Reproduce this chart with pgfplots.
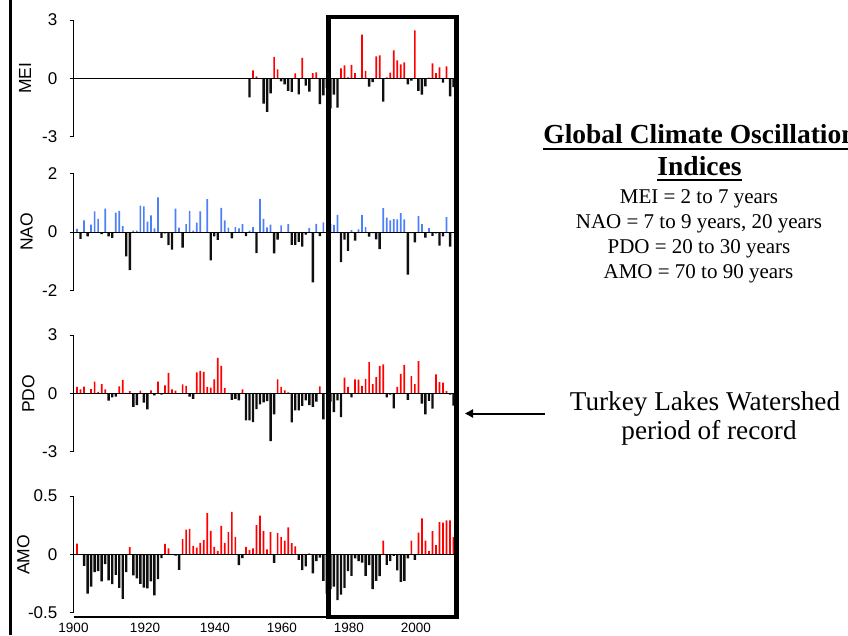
\documentclass[border=0pt]{standalone}
\usepackage{fontspec}
\setmainfont{Liberation Serif}
\newfontfamily\arial{Liberation Sans}
\usepackage{pgfplots}
\pgfplotsset{compat=1.18}
\usepackage{pgfplotstable}
\usetikzlibrary{arrows.meta}

\definecolor{barred}{RGB}{255,0,0}
\definecolor{barblue}{RGB}{77,128,245}
\definecolor{barblack}{RGB}{15,15,15}

\pgfplotstableread{
year val
1949 -0.98
1950 0.41
1951 0.10
1952 0.00
1953 -1.30
1954 -1.72
1955 -0.77
1956 1.10
1957 0.46
1958 -0.15
1959 -0.31
1960 -0.65
1961 -0.69
1962 0.26
1963 -0.82
1964 1.05
1965 -0.38
1966 -0.68
1967 0.27
1968 0.31
1969 -1.32
1970 -0.87
1971 -0.50
1972 -1.55
1973 -0.84
1974 -1.51
1975 0.51
1976 0.67
1977 0.05
1978 0.69
1979 0.27
1980 0.00
1981 2.25
1982 0.39
1983 -0.43
1984 -0.20
1985 1.13
1986 1.18
1987 -1.20
1988 0.05
1989 0.30
1990 1.44
1991 0.93
1992 0.72
1993 0.82
1994 -0.31
1995 -0.12
1996 2.47
1997 -0.65
1998 -0.84
1999 -0.41
2000 0.04
2001 0.77
2002 0.27
2003 0.57
2004 -0.22
2005 0.62
2006 -0.93
2007 -0.45
}\meidata

\pgfplotstableread{
year val
1900 0.11
1901 -0.23
1902 0.40
1903 -0.15
1904 0.25
1905 0.70
1906 0.45
1907 -0.07
1908 0.80
1909 -0.15
1910 -0.20
1911 0.66
1912 0.72
1913 0.20
1914 -0.83
1915 -1.30
1916 0.05
1917 0.05
1918 0.90
1919 0.87
1920 0.35
1921 0.57
1922 0.12
1923 1.18
1924 -0.20
1925 -0.05
1926 -0.45
1927 -0.60
1928 0.80
1929 0.15
1930 -0.53
1931 0.27
1932 0.72
1933 0.05
1934 0.32
1935 0.70
1936 0.00
1937 1.12
1938 -0.97
1939 -0.15
1940 -0.27
1941 0.82
1942 0.40
1943 0.15
1944 -0.22
1945 0.17
1946 0.12
1947 0.27
1948 -0.14
1949 0.05
1950 0.17
1951 -0.72
1952 1.13
1953 0.45
1954 0.16
1955 0.25
1956 -0.73
1957 -0.26
1958 0.23
1959 -0.03
1960 0.27
1961 -0.44
1962 -0.44
1963 -0.34
1964 -0.50
1965 -0.09
1966 0.14
1967 -1.72
1968 0.28
1969 -0.14
1970 0.33
1971 0.00
1972 0.28
1973 0.24
1974 0.58
1975 -1.03
1976 -0.26
1977 -0.64
1978 0.06
1979 -0.29
1980 0.09
1981 0.58
1982 0.17
1983 -0.16
1984 -0.04
1985 -0.25
1986 -0.58
1987 0.81
1988 0.49
1989 0.40
1990 0.44
1991 0.43
1992 0.64
1993 0.43
1994 -1.45
1995 -0.04
1996 -0.35
1997 0.54
1998 0.27
1999 -0.19
2000 0.13
2001 -0.13
2002 -0.05
2003 -0.46
2004 -0.15
2005 0.51
2006 -0.50
}\naodata

\pgfplotstableread{
year val
1900 0.33
1901 0.21
1902 0.34
1903 0.00
1904 0.22
1905 0.60
1906 0.07
1907 0.48
1908 0.21
1909 -0.38
1910 -0.21
1911 -0.17
1912 0.36
1913 0.69
1914 0.03
1915 0.12
1916 -0.69
1917 -0.60
1918 0.14
1919 -0.48
1920 -0.82
1921 0.15
1922 -0.10
1923 0.60
1924 -0.07
1925 0.41
1926 1.05
1927 0.21
1928 0.14
1929 0.00
1930 0.46
1931 0.38
1932 -0.17
1933 -0.29
1934 1.08
1935 1.15
1936 1.10
1937 0.33
1938 0.29
1939 0.72
1940 1.82
1941 1.41
1942 0.27
1943 0.03
1944 -0.33
1945 -0.29
1946 -0.36
1947 0.21
1948 -1.39
1949 -1.39
1950 -1.48
1951 -0.81
1952 -0.57
1953 -0.47
1954 -0.40
1955 -2.45
1956 -1.08
1957 0.72
1958 0.33
1959 0.15
1960 0.05
1961 -1.49
1962 -0.87
1963 -0.87
1964 -0.65
1965 -0.36
1966 -0.60
1967 -0.70
1968 -0.43
1969 0.36
1970 -1.34
1971 0.00
1972 -0.43
1973 -0.96
1974 -0.36
1975 -1.22
1976 0.81
1977 0.33
1978 -0.21
1979 0.72
1980 0.70
1981 0.39
1982 0.74
1983 1.61
1984 0.48
1985 0.84
1986 1.41
1987 1.49
1988 -0.21
1989 -0.07
1990 -0.77
1991 0.33
1992 1.00
1993 1.46
1994 -0.34
1995 0.89
1996 0.48
1997 1.66
1998 -0.53
1999 -1.08
2000 -0.39
2001 -0.79
2002 0.98
2003 0.58
2004 0.55
2005 0.12
2006 -0.07
2007 -0.63
}\pdodata

\pgfplotstableread{
year val
1900 0.090
1901 0.000
1902 -0.100
1903 -0.340
1904 -0.280
1905 -0.155
1906 -0.146
1907 -0.235
1908 -0.086
1909 -0.226
1910 -0.258
1911 -0.178
1912 -0.290
1913 -0.384
1914 -0.155
1915 0.060
1916 -0.183
1917 -0.209
1918 -0.255
1919 -0.287
1920 -0.295
1921 -0.235
1922 -0.355
1923 -0.215
1924 -0.034
1925 0.089
1926 0.049
1927 0.000
1928 -0.012
1929 -0.135
1930 0.129
1931 0.210
1932 0.218
1933 0.072
1934 0.057
1935 0.097
1936 0.120
1937 0.352
1938 0.200
1939 0.063
1940 0.029
1941 0.244
1942 0.097
1943 0.189
1944 0.364
1945 0.149
1946 -0.095
1947 -0.034
1948 0.063
1949 0.037
1950 0.049
1951 0.249
1952 0.332
1953 0.200
1954 0.040
1955 0.190
1956 -0.075
1957 0.180
1958 0.146
1959 0.117
1960 0.230
1961 0.095
1962 0.066
1963 -0.049
1964 -0.138
1965 -0.106
1966 0.006
1967 -0.166
1968 -0.060
1969 -0.030
1970 -0.230
1971 -0.340
1972 -0.300
1973 -0.280
1974 -0.395
1975 -0.347
1976 -0.290
1977 -0.146
1978 -0.186
1979 -0.037
1980 -0.060
1981 -0.072
1982 -0.186
1983 -0.095
1984 -0.300
1985 -0.230
1986 -0.190
1987 0.117
1988 -0.092
1989 -0.060
1990 -0.014
1991 -0.140
1992 -0.238
1993 -0.230
1994 -0.037
1995 0.117
1996 -0.049
1997 0.186
1998 0.307
1999 0.117
2000 0.026
2001 0.198
2002 0.077
2003 0.275
2004 0.270
2005 0.290
2006 0.290
2007 0.146
}\amodata

\pgfplotsset{
  panel/.style={
    scale only axis, width=381.5pt,
    xmin=1899, xmax=2007.4,
    axis y line=left,
    axis line style={-, line width=0.8pt, black},
    tick align=outside, major tick length=4pt,
    tick style={line width=0.8pt, black},
    yticklabel style={font=\arial\fontsize{17}{17}\selectfont, anchor=east, inner sep=0pt, xshift=-12pt},
    /pgf/number format/assume math mode=true,
    clip=false,
  },
  upper/.style={panel, axis x line=none, xtick=\empty},
  posbar/.style={ybar, bar shift=0pt, bar width=1.7pt, draw=none, fill=#1, restrict y to domain=0:10},
  negbar/.style={ybar, bar shift=0pt, bar width=2.4pt, draw=none, fill=barblack, restrict y to domain=-10:0},
}

\begin{document}
\begin{tikzpicture}[x=1pt,y=1pt]
\path[use as bounding box] (0,0) rectangle (848,635);

% MEI
\begin{axis}[upper, at={(73.5pt,498.3pt)}, anchor=south west, height=116.7pt,
  ymin=-3, ymax=3, ytick={-3,0,3}]
  \addplot[posbar=barred] table[x=year,y=val] {\meidata};
  \addplot[negbar] table[x=year,y=val] {\meidata};
  \draw[line width=0.8pt] (axis cs:1899,0) -- (axis cs:2007.4,0);
\end{axis}

% NAO
\begin{axis}[upper, at={(73.5pt,344.3pt)}, anchor=south west, height=117.4pt,
  ymin=-2, ymax=2, ytick={-2,0,2}]
  \addplot[posbar=barblue] table[x=year,y=val] {\naodata};
  \addplot[negbar] table[x=year,y=val] {\naodata};
  \draw[line width=0.8pt] (axis cs:1899,0) -- (axis cs:2007.4,0);
\end{axis}

% PDO
\begin{axis}[upper, at={(73.5pt,183.3pt)}, anchor=south west, height=116.7pt,
  ymin=-3, ymax=3, ytick={-3,0,3}]
  \addplot[posbar=barred] table[x=year,y=val] {\pdodata};
  \addplot[negbar] table[x=year,y=val] {\pdodata};
  \draw[line width=0.8pt] (axis cs:1899,0) -- (axis cs:2007.4,0);
\end{axis}

% AMO
\begin{axis}[panel, at={(73.5pt,22.7pt)}, anchor=south west, height=116.3pt,
  ymin=-0.5, ymax=0.5, ytick={-0.5,0,0.5},
  axis x line=bottom, x axis line style={opacity=0},
  xtick={1899,1919.32,1939.2,1958.24,1977.27,1996.31},
  xticklabels={1900,1920,1940,1960,1980,2000},
  x tick style={opacity=0},
  xticklabel style={font=\arial\fontsize{13.5}{14}\selectfont, anchor=base, inner sep=0pt, yshift=-18.5pt}]
  \addplot[posbar=barred] table[x=year,y=val] {\amodata};
  \addplot[negbar] table[x=year,y=val] {\amodata};
  \draw[line width=0.8pt] (axis cs:1899,0) -- (axis cs:2007.4,0);
\end{axis}

% y labels
\begin{scope}[every node/.style={rotate=90, font=\arial\fontsize{17.5}{18}\selectfont, inner sep=0pt}]
\node at (25,556.7) {MEI};
\node at (26.7,403) {NAO};
\node at (28.3,241) {PDO};
\node at (23.3,80) {AMO};
\end{scope}

% x axis line of bottom panel
\draw[line width=1.4pt] (73.5,18) -- (330,18);

% left border line
\draw[line width=3pt] (10,0) -- (10,635);

% highlight rectangle
\draw[line width=4.6pt] (328.3,618) rectangle (456.3,18.2);

% arrow
\draw[line width=2pt, -{Triangle[length=8pt,width=8pt]}] (545,221.5) -- (465,221.5);

% titles on the right
\node[font=\fontsize{27.5}{30}\selectfont\bfseries, anchor=base, inner sep=0pt] (t1) at (700,491.7) {Global Climate Oscillation};
\draw[line width=2pt] ([yshift=-5.5pt]t1.base west) -- ([yshift=-5.5pt]t1.base east);
\node[font=\fontsize{27.5}{30}\selectfont\bfseries, anchor=base, inner sep=0pt] (t2) at (699.5,459) {Indices};
\draw[line width=2pt] ([yshift=-4.5pt]t2.base west) -- ([yshift=-4.5pt]t2.base east);
\begin{scope}[every node/.style={font=\fontsize{21}{24}\selectfont, anchor=base, inner sep=0pt}]
\node at (699,431.7) {MEI = 2 to 7 years};
\node at (699,406.7) {NAO = 7 to 9 years, 20 years};
\node at (699,381.7) {PDO = 20 to 30 years};
\node at (698.5,356.7) {AMO = 70 to 90 years};
\end{scope}
\begin{scope}[every node/.style={font=\fontsize{27.2}{30}\selectfont, anchor=base, inner sep=0pt}]
\node at (705,225) {Turkey Lakes Watershed};
\node at (709,196) {period of record};
\end{scope}
\end{tikzpicture}
\end{document}
